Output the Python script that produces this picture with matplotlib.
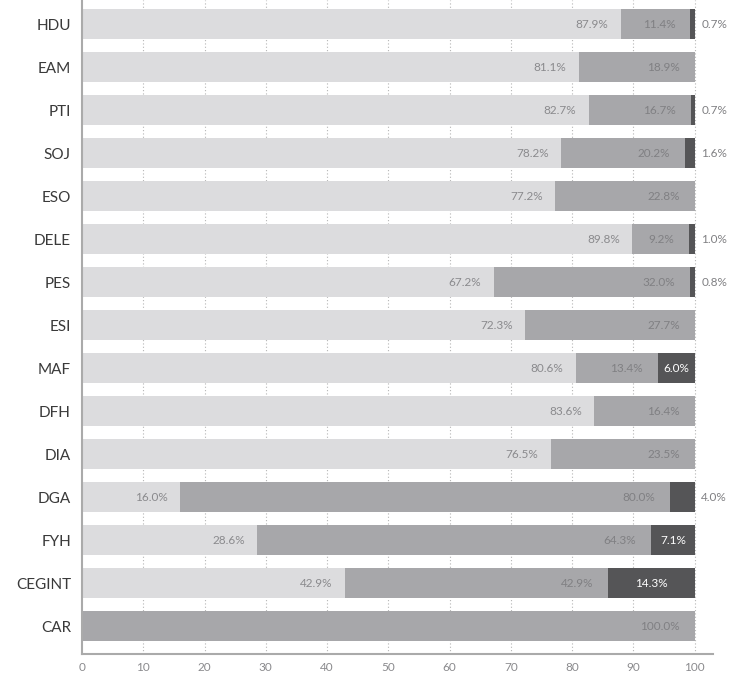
import matplotlib
matplotlib.use("Agg")
import matplotlib.pyplot as plt
import numpy as np

plt.rcParams['font.family'] = ['Lato', 'DejaVu Sans']

# data (percent)
groups = ["HDU", "EAM", "PTI", "SOJ", "ESO", "DELE", "PES", "ESI",
          "MAF", "DFH", "DIA", "DGA", "FYH", "CEGINT", "CAR"]
light = [87.9, 81.1, 82.7, 78.2, 77.2, 89.8, 67.2, 72.3, 80.6, 83.6, 76.5, 16.0, 28.6, 42.9, 0.0]
mid = [11.4, 18.9, 16.7, 20.2, 22.8, 9.2, 32.0, 27.7, 13.4, 16.4, 23.5, 80.0, 64.3, 42.9, 100.0]
dark = [0.7, 0.0, 0.7, 1.6, 0.0, 1.0, 0.8, 0.0, 6.0, 0.0, 0.0, 4.0, 7.1, 14.3, 0.0]
xticks = [0, 10, 20, 30, 40, 50, 60, 70, 80, 90, 100]

c_light = "#dcdcde"
c_mid = "#a7a7aa"
c_dark = "#555557"
lab_col = "#8a8a8d"

fig = plt.figure(figsize=(7.35, 6.76), dpi=100)
ax = fig.add_axes([0.1116, 0.0325, 0.8585, 0.9675])

y = np.arange(len(groups))
light = np.array(light)
mid = np.array(mid)
dark = np.array(dark)

ax.barh(y, light, height=0.7, color=c_light, zorder=2)
ax.barh(y, mid, left=light, height=0.7, color=c_mid, zorder=2)
ax.barh(y, dark, left=light + mid, height=0.7, color=c_dark, zorder=2)

pad = 2.0  # data units
fs = 8.5
for i in range(len(groups)):
    if light[i] > 0:
        ax.text(light[i] - pad, y[i], "%.1f%%" % light[i], ha="right", va="center",
                fontsize=fs, color=lab_col, zorder=3)
    if mid[i] > 0:
        ax.text(light[i] + mid[i] - pad - 0.4, y[i], "%.1f%%" % mid[i], ha="right", va="center",
                fontsize=fs, color="#808083", zorder=3)
    if dark[i] >= 5:
        ax.text(light[i] + mid[i] + dark[i] / 2, y[i], "%.1f%%" % dark[i], ha="center",
                va="center", fontsize=fs, color="white", zorder=3)
    elif dark[i] > 0:
        ax.text(101.1, y[i], "%.1f%%" % dark[i], ha="left", va="center",
                fontsize=fs, color="#808083", zorder=3)

for gx in xticks[1:]:
    ax.axvline(gx, color="#b5b5b5", lw=0.8, ls=(0, (1, 2)), zorder=1)

ax.set_xlim(0, 103)
ax.set_ylim(14.65, -0.56)
ax.set_yticks(y)
ax.set_yticklabels(groups, fontsize=11, color="#3a3a3a")
ax.set_xticks(xticks)
ax.set_xticklabels([str(v) for v in xticks], fontsize=8.5, color="#8a8a8d")
ax.tick_params(axis="both", length=0)
ax.tick_params(axis="y", pad=8)
ax.tick_params(axis="x", pad=6)

for side in ["top", "right"]:
    ax.spines[side].set_visible(False)
for side in ["left", "bottom"]:
    ax.spines[side].set_color("#aaaaaa")
    ax.spines[side].set_linewidth(1.5)

fig.savefig("out.png", dpi=100)
